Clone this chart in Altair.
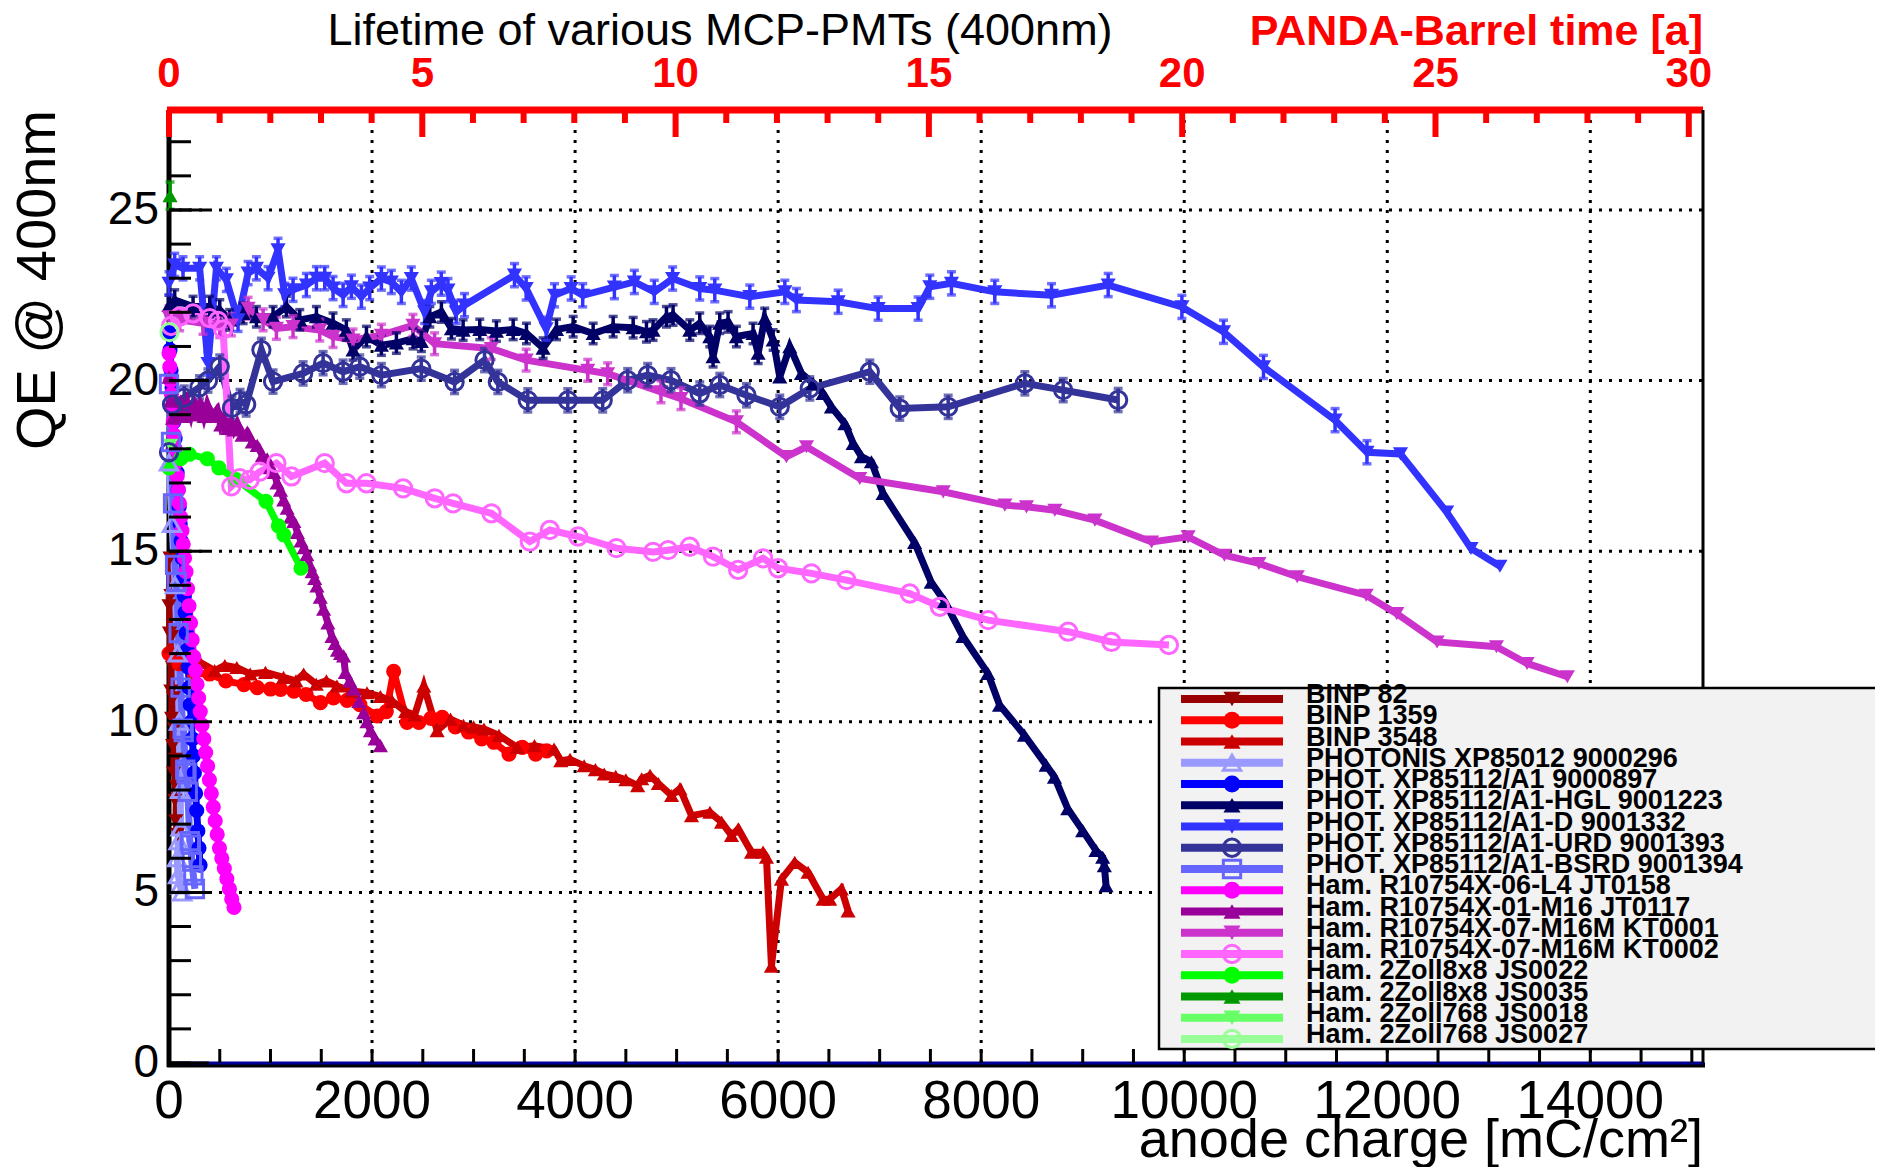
import altair as alt
import pandas as pd

# ---------------- data: [anode charge (mC/cm^2), QE @ 400nm (%)] ----------------
BINP_82 = [[0, 13.4], [10, 14.8], [5, 12.6], [18, 13.7], [12, 11.8], [25, 12.5], [18, 10.9], [33, 11.6],
           [26, 10.1], [42, 10.7], [36, 9.3], [52, 9.8], [46, 8.5], [63, 8.9], [57, 7.7], [74, 8.1],
           [68, 7.1], [85, 6.7]]
BINP_1359 = [[0, 12.0], [100, 11.7], [246, 11.42], [400, 11.4], [560, 11.2], [738, 11.09], [870, 11.0],
             [1000, 10.96], [1100, 10.95], [1230, 10.9], [1350, 10.8], [1492, 10.56], [1620, 10.7],
             [1754, 10.63], [1880, 10.5], [2049, 10.17], [2140, 10.3], [2213, 11.48], [2345, 9.98],
             [2461, 9.98], [2580, 10.1], [2691, 10.13], [2820, 9.85], [2950, 9.7], [3080, 9.5],
             [3200, 9.4], [3349, 9.05], [3480, 9.25], [3612, 9.05], [3720, 9.15]]
BINP_3548 = [[10, 12.2], [150, 11.7], [306, 11.74], [450, 11.5], [550, 11.65], [668, 11.59], [800, 11.4],
             [950, 11.45], [1128, 11.3], [1250, 11.2], [1326, 11.4], [1450, 11.1], [1550, 11.2],
             [1654, 11.05], [1800, 10.9], [1950, 10.85], [2082, 10.74], [2200, 10.6], [2330, 10.3],
             [2420, 10.2], [2510, 11.05], [2641, 9.74], [2773, 10.08], [2900, 9.9], [3000, 9.85],
             [3102, 9.79], [3250, 9.6], [3431, 9.25], [3600, 9.3], [3793, 9.2], [3859, 8.86], [3950, 8.9],
             [4089, 8.71], [4200, 8.6], [4287, 8.47], [4400, 8.4], [4500, 8.3], [4616, 8.13], [4656, 8.33],
             [4738, 8.43], [4820, 8.19], [4951, 7.84], [5033, 8.04], [5147, 7.25], [5328, 7.35],
             [5443, 7.06], [5541, 6.67], [5607, 6.86], [5738, 6.18], [5852, 6.18], [5885, 6.03],
             [5934, 2.84], [6033, 5.39], [6164, 5.88], [6295, 5.59], [6443, 4.8], [6508, 4.8], [6623, 5.1],
             [6689, 4.46]]
PHOTONIS_296 = [[0, 17.6], [30, 15.8], [60, 14.0], [85, 12.0], [100, 10.0], [110, 8.0], [115, 6.9],
                [95, 6.5], [80, 6.0], [90, 5.5], [110, 5.2], [130, 5.0]]
PHOT_897 = [[0, 21.4], [10, 20.9], [20, 20.3], [30, 19.8], [40, 19.3], [50, 18.8], [60, 18.3], [70, 17.8],
            [80, 17.3], [90, 16.8], [100, 16.3], [110, 15.8], [120, 15.3], [130, 14.8], [140, 14.2],
            [150, 13.7], [160, 13.2], [170, 12.6], [180, 12.1], [190, 11.6], [200, 11.0], [210, 10.5],
            [220, 10.0], [230, 9.5], [240, 9.0], [250, 8.5], [262, 7.9], [273, 7.4], [284, 6.8], [295, 6.3],
            [306, 5.8]]
PHOT_HGL_1223 = [[0, 22.2], [56, 22.36], [237, 22.17], [401, 22.17], [500, 22.07], [598, 21.78], [730, 21.97],
                 [861, 21.87], [1025, 21.87], [1156, 22.17], [1288, 21.78], [1452, 21.87], [1616, 21.68],
                 [1747, 21.48], [1813, 20.9], [1945, 21.29], [2092, 21.04], [2240, 21.1], [2404, 21.23],
                 [2486, 21.15], [2569, 21.87], [2683, 22.01], [2782, 21.52], [2897, 21.48], [3061, 21.5],
                 [3225, 21.45], [3390, 21.5], [3521, 21.38], [3685, 20.95], [3817, 21.5], [3981, 21.58],
                 [4178, 21.38], [4375, 21.58], [4572, 21.55], [4703, 21.43], [4768, 21.48], [4900, 21.87],
                 [4965, 21.92], [5130, 21.48], [5228, 21.68], [5327, 21.29], [5359, 20.7], [5425, 21.68],
                 [5507, 21.72], [5589, 21.29], [5753, 21.38], [5803, 20.8], [5868, 21.82], [5951, 21.19],
                 [6016, 20.11], [6115, 20.99], [6230, 20.21], [6345, 19.92], [6443, 19.62], [6525, 19.23],
                 [6657, 18.74], [6739, 18.16], [6821, 17.77], [6919, 17.62], [7034, 16.69], [7344, 15.26],
                 [7508, 14.09], [7640, 13.53], [7820, 12.5], [8066, 11.42], [8181, 10.49], [8426, 9.61],
                 [8640, 8.73], [8722, 8.38], [8853, 7.45], [9000, 6.81], [9131, 6.23], [9197, 6.03],
                 [9213, 5.78], [9230, 5.2]]
PHOT_D_1332 = [[0, 22.85], [56, 23.39], [138, 23.29], [302, 23.29], [384, 20.5], [467, 23.29], [565, 22.95],
               [680, 21.78], [779, 23.15], [861, 23.29], [976, 23.0], [1074, 23.83], [1140, 22.51],
               [1222, 22.66], [1353, 22.8], [1452, 23.0], [1534, 23.0], [1616, 22.71], [1715, 22.51],
               [1797, 22.75], [1895, 22.46], [1977, 22.71], [2092, 22.99], [2190, 22.89], [2289, 22.6],
               [2387, 22.99], [2518, 22.01], [2584, 22.6], [2682, 22.84], [2748, 22.65], [2829, 22.01],
               [2911, 22.21], [3403, 23.09], [3518, 22.7], [3715, 21.52], [3797, 22.5], [3961, 22.7],
               [4075, 22.5], [4387, 22.74], [4584, 22.89], [4780, 22.6], [4961, 22.99], [5228, 22.7],
               [5376, 22.65], [5721, 22.46], [6066, 22.6], [6180, 22.36], [6591, 22.31], [6985, 22.11],
               [7379, 22.11], [7494, 22.75], [7707, 22.85], [8134, 22.6], [8693, 22.5], [9251, 22.8],
               [9977, 22.16], [10387, 21.43], [10781, 20.4], [11486, 18.84], [11800, 17.9], [12130, 17.85],
               [12585, 16.15], [12825, 15.08], [13110, 14.56]]
PHOT_URD_1393 = [[0, 17.9], [30, 19.3], [150, 19.5], [300, 19.8], [384, 20.0], [500, 20.41], [620, 19.2],
                 [700, 19.4], [760, 19.3], [910, 20.9], [1025, 19.97], [1321, 20.21], [1518, 20.51],
                 [1715, 20.26], [1879, 20.41], [2092, 20.16], [2485, 20.35], [2813, 19.96], [3108, 20.6],
                 [3239, 19.96], [3534, 19.42], [3928, 19.42], [4272, 19.42], [4518, 20.01], [4715, 20.16],
                 [4945, 20.01], [5228, 19.62], [5425, 19.87], [5688, 19.57], [6016, 19.23], [6312, 19.77],
                 [6903, 20.26], [7198, 19.18], [7675, 19.23], [8430, 19.92], [8808, 19.72], [9349, 19.43]]
PHOT_BSRD_1394 = [[0, 19.9], [20, 18.2], [40, 16.4], [60, 14.6], [75, 14.1], [95, 12.6], [115, 11.0],
                  [135, 9.8], [145, 9.7], [160, 8.6], [172, 8.5], [185, 7.95], [205, 6.5], [215, 6.4],
                  [225, 5.9], [240, 5.5], [255, 5.1]]
HAM_JT0158 = [[0, 20.8], [8, 20.4], [16, 20.0], [24, 19.6], [33, 19.2], [42, 18.8], [51, 18.4], [60, 18.0],
              [70, 17.6], [81, 17.2], [92, 16.8], [103, 16.4], [115, 16.0], [127, 15.6], [140, 15.2],
              [153, 14.8], [167, 14.4], [182, 13.9], [197, 13.4], [212, 12.9], [228, 12.4], [244, 11.9],
              [260, 11.5], [276, 11.1], [292, 10.7], [308, 10.3], [325, 9.9], [343, 9.5], [361, 9.1],
              [380, 8.7], [398, 8.3], [417, 7.9], [436, 7.5], [455, 7.1], [475, 6.7], [497, 6.3], [520, 6.0],
              [545, 5.7], [570, 5.4], [595, 5.1], [618, 4.8], [640, 4.56]]
HAM_JT0117 = [[0, 20.1], [16, 19.4], [35, 18.9], [60, 19.4], [85, 19.0], [115, 19.4], [145, 18.95],
              [180, 19.35], [215, 19.0], [246, 19.4], [280, 19.0], [310, 19.35], [345, 18.95], [377, 19.3],
              [420, 18.95], [475, 19.15], [510, 18.7], [541, 18.9], [575, 18.6], [610, 18.8], [640, 18.55],
              [672, 18.75], [720, 18.4], [771, 18.49], [820, 18.2], [869, 18.1], [920, 17.8], [967, 17.71],
              [1000, 17.45], [1033, 17.31], [1065, 17.0], [1098, 16.79], [1130, 16.5], [1164, 16.26],
              [1197, 16.0], [1230, 15.87], [1265, 15.55], [1300, 15.3], [1330, 15.1], [1358, 14.9],
              [1385, 14.6], [1410, 14.4], [1435, 14.2], [1457, 13.98], [1490, 13.65], [1523, 13.3],
              [1565, 12.9], [1605, 12.5], [1635, 12.3], [1660, 12.1], [1690, 12.0], [1720, 11.93],
              [1737, 11.45], [1780, 11.2], [1819, 10.96], [1870, 10.6], [1918, 10.27], [1950, 10.0],
              [1984, 9.74], [2030, 9.5], [2082, 9.3]]
HAM_KT0001 = [[0, 21.87], [105, 21.78], [335, 21.68], [500, 21.58], [614, 21.63], [779, 22.12], [927, 21.78],
              [1058, 21.53], [1222, 21.58], [1485, 21.48], [1616, 21.29], [1813, 21.19], [2092, 21.33],
              [2403, 21.62], [2616, 21.08], [3174, 20.94], [3518, 20.6], [4125, 20.3], [4321, 20.2],
              [4846, 19.67], [5043, 19.47], [5589, 18.79], [6082, 17.77], [6279, 18.06], [6804, 17.13],
              [7626, 16.74], [8233, 16.35], [8446, 16.3], [8726, 16.2], [9120, 15.91], [9679, 15.27],
              [10038, 15.42], [10396, 14.88], [10736, 14.64], [11113, 14.25], [11792, 13.71], [12094, 13.17],
              [12491, 12.34], [13075, 12.2], [13377, 11.71], [13774, 11.32]]
HAM_KT0002 = [[20, 21.6], [105, 21.87], [237, 21.97], [401, 21.83], [483, 21.75], [533, 21.5], [614, 16.9],
              [697, 17.14], [795, 17.09], [894, 17.33], [1058, 17.58], [1206, 17.19], [1534, 17.58],
              [1748, 16.99], [1945, 16.99], [2306, 16.84], [2618, 16.55], [2798, 16.4], [3176, 16.11],
              [3554, 15.28], [3751, 15.62], [4030, 15.43], [4407, 15.09], [4768, 14.98], [4916, 15.03],
              [5130, 15.13], [5359, 14.84], [5606, 14.45], [5852, 14.79], [6000, 14.5], [6328, 14.35],
              [6673, 14.15], [7297, 13.76], [7593, 13.37], [8069, 12.98], [8857, 12.64], [9283, 12.34],
              [9849, 12.25]]
HAM_JS0022 = [[0, 17.44], [115, 17.71], [200, 17.84], [377, 17.71], [492, 17.44], [660, 17.1], [955, 16.46],
              [1078, 15.74], [1131, 15.48], [1300, 14.5]]
HAM_JS0035 = [[10, 25.42]]
HAM_JS0018 = [[15, 18.1]]
HAM_JS0027 = [[5, 21.42]]

# series: name, colour, marker, filled, points
SERIES = [
    ("BINP 82", "#990000", "triangle-down", True, BINP_82),
    ("BINP 1359", "#ff0000", "circle", True, BINP_1359),
    ("BINP 3548", "#cc0000", "triangle-up", True, BINP_3548),
    ("PHOTONIS XP85012 9000296", "#9999ff", "triangle-up", False, PHOTONIS_296),
    ("PHOT. XP85112/A1 9000897", "#0000ff", "circle", True, PHOT_897),
    ("PHOT. XP85112/A1-HGL 9001223", "#000066", "triangle-up", True, PHOT_HGL_1223),
    ("PHOT. XP85112/A1-D 9001332", "#3333ff", "triangle-down", True, PHOT_D_1332),
    ("PHOT. XP85112/A1-URD 9001393", "#333399", "circle", False, PHOT_URD_1393),
    ("PHOT. XP85112/A1-BSRD 9001394", "#6666ff", "square", False, PHOT_BSRD_1394),
    ("Ham. R10754X-06-L4 JT0158", "#ff00ff", "circle", True, HAM_JT0158),
    ("Ham. R10754X-01-M16 JT0117", "#990099", "triangle-up", True, HAM_JT0117),
    ("Ham. R10754X-07-M16M KT0001", "#cc33cc", "triangle-down", True, HAM_KT0001),
    ("Ham. R10754X-07-M16M KT0002", "#ff66ff", "circle", False, HAM_KT0002),
    ("Ham. 2Zoll8x8 JS0022", "#00ff00", "circle", True, HAM_JS0022),
    ("Ham. 2Zoll8x8 JS0035", "#009900", "triangle-up", True, HAM_JS0035),
    ("Ham. 2Zoll768 JS0018", "#66ff66", "triangle-down", True, HAM_JS0018),
    ("Ham. 2Zoll768 JS0027", "#99ff99", "circle", False, HAM_JS0027),
]
# vertical error (QE %) and the charge up to which error bars are drawn
ERRORS = {
    "PHOT. XP85112/A1-HGL 9001223": (0.3, 6000),
    "PHOT. XP85112/A1-D 9001332": (0.34, 11900),
    "PHOT. XP85112/A1-URD 9001393": (0.34, 9400),
    "Ham. R10754X-07-M16M KT0001": (0.32, 5700),
    "Ham. 2Zoll8x8 JS0035": (0.4, 100),
}

X_LABELS = [0, 2000, 4000, 6000, 8000, 10000, 12000, 14000]
X_TICKS = list(range(0, 15001, 500))
Y_LABELS = [0, 5, 10, 15, 20, 25]
Y_TICKS = list(range(0, 28))
X_GRID = [2000, 4000, 6000, 8000, 10000, 12000, 14000]
Y_GRID = [5, 10, 15, 20, 25]
YEAR_LABELS = [0, 5, 10, 15, 20, 25, 30]
YEAR_MINOR = [y for y in range(0, 31) if y % 5 != 0]
MC_PER_YEAR = 499  # anode charge per PANDA-Barrel year

TITLE = "Lifetime of various MCP-PMTs (400nm)"
TITLE_RED = "PANDA-Barrel time [a]"
X_TITLE = "anode charge [mC/cm²]"
Y_TITLE = "QE @ 400nm"

# ---------------- build tables ----------------
names = [s[0] for s in SERIES]
rows = []
for name, color, shape, filled, pts in SERIES:
    err, xmax = ERRORS.get(name, (0.0, -1))
    for i, (x, y) in enumerate(pts):
        rows.append(dict(name=name, i=i, x=x, y=y, filled=filled,
                         err=err if x <= xmax else 0.0))
df = pd.DataFrame(rows)
leg = pd.DataFrame({"name": names, "idx": list(range(len(SERIES))),
                    "filled": [s[3] for s in SERIES]})

W, H = 1534, 953
FONT = "Liberation Sans"
XS = alt.Scale(domain=[0, 15110], nice=False, zero=False)
YS = alt.Scale(domain=[0, 27.93], nice=False, zero=False)
CS = alt.Scale(domain=names, range=[s[1] for s in SERIES])
SS = alt.Scale(domain=names, range=[s[2] for s in SERIES])
col = alt.Color("name:N", scale=CS, legend=None)
shp = alt.Shape("name:N", scale=SS, legend=None)


def xq(f="x"):
    return alt.X(f"{f}:Q", scale=XS, axis=None)


def yq(f="y"):
    return alt.Y(f"{f}:Q", scale=YS, axis=None)


one = pd.DataFrame({"a": [0]})

grid_x = alt.Chart(pd.DataFrame({"v": X_GRID})).mark_rule(
    color="black", strokeWidth=3, strokeDash=[3, 7]).encode(
    x=xq("v"), y=alt.value(0), y2=alt.value(H))
grid_y = alt.Chart(pd.DataFrame({"v": Y_GRID})).mark_rule(
    color="black", strokeWidth=3, strokeDash=[3, 7]).encode(
    y=yq("v"), x=alt.value(0), x2=alt.value(W))

# frame / axis lines
left_domain = alt.Chart(one).mark_rule(color="black", strokeWidth=5).encode(
    x=alt.value(0), y=alt.value(0), y2=alt.value(H + 4))
bottom_domain = alt.Chart(one).mark_rule(color="black", strokeWidth=5).encode(
    y=alt.value(H + 2), x=alt.value(-2), x2=alt.value(W + 2))
zero_line = alt.Chart(pd.DataFrame({"v": [0]})).mark_rule(color="#000099", strokeWidth=3).encode(
    y=yq("v"), x=alt.value(2), x2=alt.value(W))
right_frame = alt.Chart(one).mark_rule(color="black", strokeWidth=3).encode(
    x=alt.value(W), y=alt.value(0), y2=alt.value(H))

# axis labels and titles
x_labels = alt.Chart(pd.DataFrame({"v": X_LABELS})).mark_text(
    fontSize=53, font=FONT, color="black", baseline="alphabetic", align="center").encode(
    x=xq("v"), y=alt.value(H + 55), text=alt.Text("v:Q", format="d"))
y_labels = alt.Chart(pd.DataFrame({"v": Y_LABELS})).mark_text(
    fontSize=46, font=FONT, color="black", baseline="middle", align="right").encode(
    y=yq("v"), x=alt.value(-10), text=alt.Text("v:Q", format="d"))
x_title = alt.Chart(pd.DataFrame({"t": [X_TITLE]})).mark_text(
    fontSize=54, font=FONT, color="black", baseline="alphabetic", align="right").encode(
    x=alt.value(W), y=alt.value(H + 94), text="t:N")
y_title = alt.Chart(pd.DataFrame({"t": [Y_TITLE]})).mark_text(
    fontSize=56, font=FONT, color="black", baseline="alphabetic", align="right", angle=270).encode(
    x=alt.value(-114), y=alt.value(0), text="t:N")

errs = alt.Chart(df).transform_filter("datum.err > 0").transform_calculate(
    lo="datum.y - datum.err", hi="datum.y + datum.err")
err_bars = errs.mark_rule(strokeWidth=3.5).encode(x=xq(), y=yq("lo"), y2="hi:Q", color=col)
err_caps = errs.transform_fold(["lo", "hi"], as_=["k", "v"]).mark_tick(
    orient="horizontal", size=9, thickness=3.5).encode(x=xq(), y=yq("v"), color=col)

lines = alt.Chart(df).mark_line(strokeWidth=7).encode(
    x=xq(), y=yq(), color=col, order="i:Q")
pts_filled = alt.Chart(df).transform_filter("datum.filled").mark_point(
    filled=True, size=230, opacity=1).encode(x=xq(), y=yq(), color=col, shape=shp)
pts_open = alt.Chart(df).transform_filter("!datum.filled").mark_point(
    filled=False, size=300, strokeWidth=3, opacity=1).encode(x=xq(), y=yq(), color=col, shape=shp)

# ticks pointing into the frame
xt = pd.DataFrame({"v": X_TICKS})
bottom_ticks = alt.Chart(xt).mark_rule(color="black", strokeWidth=3).encode(
    x=xq("v"), y=alt.value(H), y2=alt.value(H - 14))
yt = pd.DataFrame({"v": Y_TICKS})
left_minor = alt.Chart(yt).mark_rule(color="black", strokeWidth=3).encode(
    y=yq("v"), x=alt.value(0), x2=alt.value(22))
left_major = alt.Chart(pd.DataFrame({"v": Y_LABELS})).mark_rule(color="black", strokeWidth=3).encode(
    y=yq("v"), x=alt.value(0), x2=alt.value(40))

# top (PANDA-Barrel years) axis
yrs_major = alt.Chart(pd.DataFrame({"yr": YEAR_LABELS})).transform_calculate(
    xv=f"datum.yr * {MC_PER_YEAR}")
yrs_minor = alt.Chart(pd.DataFrame({"yr": YEAR_MINOR})).transform_calculate(
    xv=f"datum.yr * {MC_PER_YEAR}")
top_line = alt.Chart(one).mark_rule(color="#ff0000", strokeWidth=7).encode(
    x=alt.value(-2), x2=alt.value(W), y=alt.value(0))
top_major = yrs_major.mark_rule(color="#ff0000", strokeWidth=6).encode(
    x=xq("xv"), y=alt.value(0), y2=alt.value(27))
top_minor = yrs_minor.mark_rule(color="#ff0000", strokeWidth=6).encode(
    x=xq("xv"), y=alt.value(0), y2=alt.value(13))
top_labels = yrs_major.mark_text(color="#ff0000", fontSize=42, fontWeight="bold",
                                 baseline="alphabetic", font=FONT).encode(
    x=xq("xv"), y=alt.value(-23), text=alt.Text("yr:Q", format="d"))

title_black = alt.Chart(pd.DataFrame({"t": [TITLE]})).mark_text(
    fontSize=45, font=FONT, color="black", baseline="alphabetic", align="center").encode(
    x=alt.value(551), y=alt.value(-65), text="t:N")
title_red = alt.Chart(pd.DataFrame({"t": [TITLE_RED]})).mark_text(
    fontSize=43, font=FONT, fontWeight="bold", color="#ff0000", baseline="alphabetic",
    align="right").encode(x=alt.value(W), y=alt.value(-65), text="t:N")

# legend box
leg_box = alt.Chart(one).mark_rect(fill="#f2f2f2", stroke="black", strokeWidth=2.5).encode(
    x=alt.value(990), x2=alt.value(1800), y=alt.value(578), y2=alt.value(939))
lbase = alt.Chart(leg).transform_calculate(py="589 + 21.25 * datum.idx")
ly = alt.Y("py:Q", scale=None, axis=None)
leg_lines = lbase.mark_rule(strokeWidth=8).encode(
    x=alt.value(1012), x2=alt.value(1114), y=ly, color=col)
leg_pf = lbase.transform_filter("datum.filled").mark_point(filled=True, size=290, opacity=1).encode(
    x=alt.value(1063), y=ly, color=col, shape=shp)
leg_po = lbase.transform_filter("!datum.filled").mark_point(
    filled=False, size=300, strokeWidth=3, opacity=1).encode(
    x=alt.value(1063), y=ly, color=col, shape=shp)
leg_text = lbase.mark_text(align="left", baseline="alphabetic", dy=4, fontSize=27, fontWeight="bold",
                           font=FONT, color="black").encode(x=alt.value(1137), y=ly, text="name:N")

chart = alt.layer(
    grid_x, grid_y, left_domain, bottom_domain, zero_line, lines, err_bars, err_caps, pts_filled, pts_open,
    bottom_ticks, left_minor, left_major, top_line, top_major, top_minor, top_labels, right_frame,
    x_labels, y_labels, x_title, y_title,
    title_black, title_red, leg_box, leg_lines, leg_pf, leg_po, leg_text,
).properties(
    width=W, height=H,
    autosize=alt.AutoSizeParams(type="none"),
    padding={"left": 161, "top": 102, "right": 172, "bottom": 104},
).configure(font=FONT).configure_view(stroke=None)

chart.save("out.html", embed_options={"renderer": "svg", "actions": False})
